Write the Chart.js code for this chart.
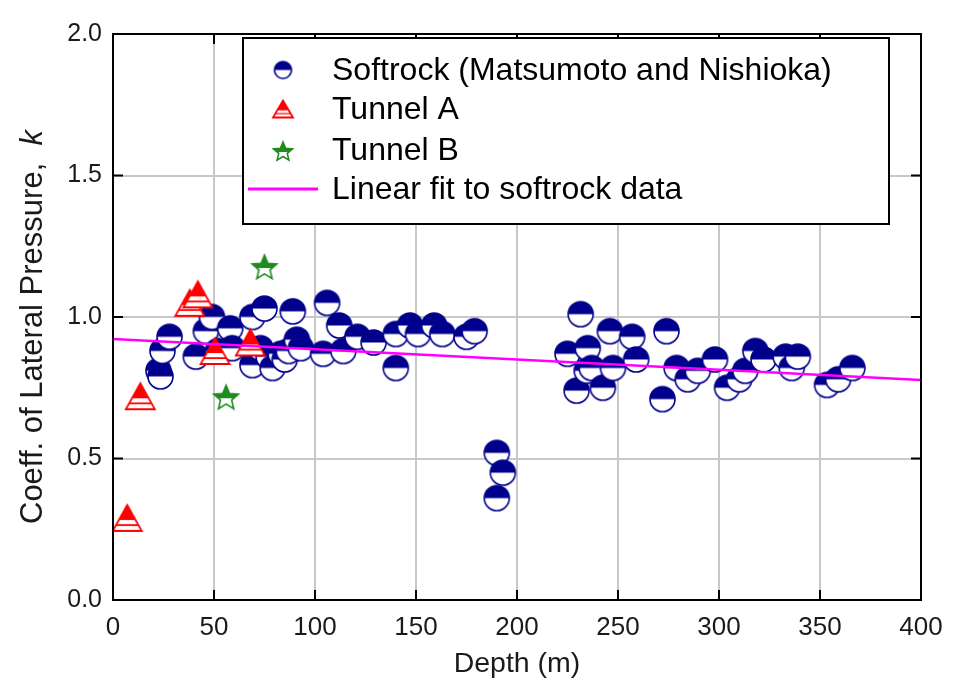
<!DOCTYPE html>
<html><head><meta charset="utf-8">
<script src="https://cdn.jsdelivr.net/npm/chart.js@4/dist/chart.umd.min.js"></script>
<style>html,body{margin:0;padding:0;background:#fff}#wrap{width:961px;height:684px}</style>
</head><body><div id="wrap"><canvas id="c" width="961" height="684"></canvas></div>
<script>
// ---------- data ----------
const seriesLabels = ['Softrock (Matsumoto and Nishioka)', 'Tunnel A', 'Tunnel B', 'Linear fit to softrock data'];
const softDepth = [22.5,23.5,24.5,28,41,46,49,52,58,59,69,75,69,73,77,79,83,85,87,89,91,93,104,106,112,114,121,129,140,140,147,151,159,163,175,179,190,193,190,225,229.5,231.5,234.5,235,237,242.5,246,247.5,257,259,272,274,279,284.5,289.5,298,304,310,313,318,322,333,336,339,353.5,359,366];
const softK     = [0.81,0.79,0.88,0.93,0.86,0.95,1.00,0.88,0.96,0.89,1.00,1.03,0.83,0.89,0.86,0.82,0.87,0.85,0.88,1.02,0.92,0.89,0.87,1.05,0.97,0.88,0.93,0.91,0.82,0.94,0.97,0.94,0.97,0.94,0.93,0.95,0.52,0.45,0.36,0.87,0.74,1.01,0.81,0.89,0.82,0.75,0.95,0.82,0.93,0.85,0.71,0.95,0.82,0.78,0.81,0.85,0.75,0.78,0.81,0.88,0.85,0.86,0.82,0.86,0.76,0.78,0.82];
const tunnelADepth = [7,13.5,38,42,50.5,68];
const tunnelAK     = [0.29,0.72,1.05,1.08,0.88,0.91];
const tunnelBDepth = [56,75];
const tunnelBK     = [0.72,1.18];
const fitDepth = [0,400];
const fitK     = [0.922,0.777];
const xTickValues = [0,50,100,150,200,250,300,350,400];
const yTickValues = [0,0.5,1.0,1.5,2.0];

// ---------- marker images ----------
const NAVY = '#00008c', RED = '#ff0000', GREEN = '#1e8c1e', MAGENTA = '#ff00ff';
function halfCircle(d){
  const s = Math.ceil(d+4), c = document.createElement('canvas'); c.width = c.height = s;
  const g = c.getContext('2d'), r = d/2, m = s/2;
  g.beginPath(); g.arc(m,m,r,0,2*Math.PI); g.fillStyle='#fff'; g.fill();
  g.beginPath(); g.arc(m,m,r,Math.PI,2*Math.PI); g.closePath(); g.fillStyle=NAVY; g.fill();
  g.beginPath(); g.arc(m,m,r,0,2*Math.PI); g.lineWidth=1.6; g.strokeStyle=NAVY; g.stroke();
  return c;
}
function halfTriangle(w,h){
  const c = document.createElement('canvas'); c.width = Math.ceil(w+4); c.height = Math.ceil(h+4);
  const g = c.getContext('2d'), x0 = 2, y0 = 2;
  const path = () => { g.beginPath(); g.moveTo(x0+w/2,y0); g.lineTo(x0+w,y0+h); g.lineTo(x0,y0+h); g.closePath(); };
  path(); g.fillStyle='#fff'; g.fill();
  g.save(); path(); g.clip(); g.fillStyle=RED; g.fillRect(0,0,c.width,y0+h*0.58);
  g.fillRect(0,y0+h*0.74,c.width,h*0.07); g.restore();
  path(); g.lineWidth=1.8; g.strokeStyle=RED; g.lineJoin='miter'; g.stroke();
  return c;
}
function halfStar(R){
  const s = Math.ceil(2*R+4), c = document.createElement('canvas'); c.width = c.height = s;
  const g = c.getContext('2d'), m = s/2, ri = R*0.45;
  const path = () => { g.beginPath(); for(let i=0;i<10;i++){ const a=-Math.PI/2+i*Math.PI/5, rr=i%2?ri:R; const px=m+rr*Math.cos(a), py=m+2+rr*Math.sin(a); i?g.lineTo(px,py):g.moveTo(px,py);} g.closePath(); };
  path(); g.fillStyle='#fff'; g.fill();
  g.save(); path(); g.clip(); g.fillStyle=GREEN; g.fillRect(0,0,s,m+2); g.restore();
  path(); g.lineWidth=1.6; g.strokeStyle=GREEN; g.stroke();
  return c;
}
const imgCircle = halfCircle(25), imgTri = halfTriangle(29,26), imgStar = halfStar(13);
const legCircle = halfCircle(17), legTri = halfTriangle(20,17), legStar = halfStar(10);

const pts = (xs, ys) => xs.map((x,i)=>({x, y: ys[i]}));

const FONT = "'Liberation Sans', Arial, Helvetica, sans-serif";

// ---------- plugins ----------
const framePlugin = {
  id: 'frame',
  afterDatasetsDraw(chart){
    const {ctx, chartArea:a, scales:{x,y}} = chart;
    ctx.save();
    ctx.strokeStyle='#000'; ctx.lineWidth=2;
    ctx.strokeRect(a.left, a.top, a.right-a.left, a.bottom-a.top);
    ctx.beginPath();
    xTickValues.forEach(v=>{ const px=x.getPixelForValue(v); ctx.moveTo(px,a.bottom); ctx.lineTo(px,a.bottom-10); ctx.moveTo(px,a.top); ctx.lineTo(px,a.top+10); });
    yTickValues.forEach(v=>{ const py=y.getPixelForValue(v); ctx.moveTo(a.left,py); ctx.lineTo(a.left+10,py); ctx.moveTo(a.right,py); ctx.lineTo(a.right-10,py); });
    ctx.stroke();
    ctx.restore();
  },
  afterDraw(chart){
    const ctx = chart.ctx;
    // y axis title with italic k
    ctx.save();
    ctx.translate(33, 327); ctx.rotate(-Math.PI/2);
    ctx.fillStyle='#1a1a1a'; ctx.textBaseline='middle'; ctx.textAlign='left';
    const p1 = 'Coeff. of Lateral Pressure,  ', p2 = 'k';
    ctx.font = `31px ${FONT}`; const w1 = ctx.measureText(p1).width;
    ctx.font = `italic 31px ${FONT}`; const w2 = ctx.measureText(p2).width;
    const sx = -(w1+w2)/2;
    ctx.font = `31px ${FONT}`; ctx.fillText(p1, sx, 0);
    ctx.font = `italic 31px ${FONT}`; ctx.fillText(p2, sx+w1, 0);
    ctx.restore();
    // legend box
    ctx.save();
    const bx=243, by=38, bw=646, bh=186;
    ctx.fillStyle='#fff'; ctx.fillRect(bx,by,bw,bh);
    ctx.strokeStyle='#000'; ctx.lineWidth=2; ctx.strokeRect(bx,by,bw,bh);
    const rows=[70,109,150,189], mx=283, tx=332;
    const icons=[legCircle, legTri, legStar, null];
    ctx.font = `32px ${FONT}`; ctx.fillStyle='#000'; ctx.textBaseline='middle'; ctx.textAlign='left';
    chart.data.datasets.forEach((ds,i)=>{
      const yy=rows[i];
      if(icons[i]){ const im=icons[i]; ctx.drawImage(im, mx-im.width/2, yy-im.height/2); }
      else { ctx.strokeStyle=MAGENTA; ctx.lineWidth=3; ctx.beginPath(); ctx.moveTo(248,yy); ctx.lineTo(318,yy); ctx.stroke(); }
      ctx.fillText(ds.label, tx, yy+1);
    });
    ctx.restore();
  }
};

new Chart(document.getElementById('c'), {
  type: 'scatter',
  data: {
    datasets: [
      { label: seriesLabels[0], data: pts(softDepth, softK), pointStyle: imgCircle, order: 3 },
      { label: seriesLabels[1], data: pts(tunnelADepth, tunnelAK), pointStyle: imgTri, order: 2 },
      { label: seriesLabels[2], data: pts(tunnelBDepth, tunnelBK), pointStyle: imgStar, order: 1 },
      { label: seriesLabels[3], type: 'line', data: pts(fitDepth, fitK), borderColor: MAGENTA, borderWidth: 2.5, pointRadius: 0, fill: false, order: 0 }
    ]
  },
  options: {
    responsive: false, animation: false, devicePixelRatio: 1,
    layout: { padding: { top: 34, right: 40, left: 0, bottom: 0 } },
    plugins: { legend: { display: false }, tooltip: { enabled: false } },
    scales: {
      x: {
        type: 'linear', min: 0, max: 400,
        afterBuildTicks: s => { s.ticks = xTickValues.map(v=>({value:v})); },
        afterFit: s => { s.height = 84; },
        ticks: { font: { family: FONT, size: 26 }, color: '#1a1a1a', padding: 12, maxRotation: 0 },
        grid: { color: '#c8c8c8', lineWidth: 2, drawTicks: false },
        border: { display: false },
        title: { display: true, text: 'Depth (m)', font: { family: FONT, size: 28.5 }, color: '#1a1a1a', padding: { top: 0, bottom: 3 } }
      },
      y: {
        type: 'linear', min: 0, max: 2,
        afterBuildTicks: s => { s.ticks = yTickValues.map(v=>({value:v})); },
        afterFit: s => { s.width = 113; },
        ticks: { font: { family: FONT, size: 25 }, color: '#1a1a1a', padding: 11, callback: v => Number(v).toFixed(1) },
        grid: { color: '#c8c8c8', lineWidth: 2, drawTicks: false },
        border: { display: false }
      }
    }
  },
  plugins: [framePlugin]
});
</script></body></html>
